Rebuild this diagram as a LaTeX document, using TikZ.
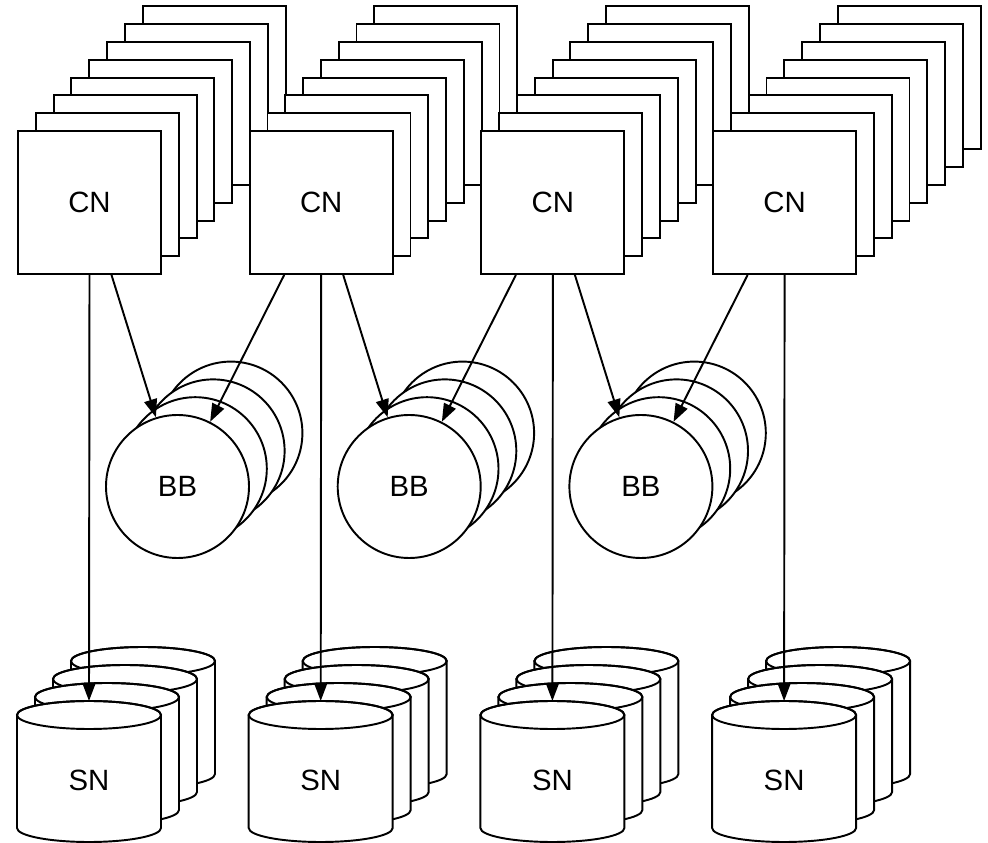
\documentclass[tikz,border=0pt]{standalone}
\usepackage{fontspec}
\setmainfont{Liberation Sans}
\usetikzlibrary{arrows.meta}

% storage drum: #1 = centre x, #2 = y of the centre of the top ellipse
\newcommand\drumshape[2]{%
  \filldraw[fill=white] (#1-72,#2) -- (#1-72,#2-113)
    arc[start angle=180,end angle=360,x radius=72,y radius=14]
    -- (#1+72,#2)
    arc[start angle=0,end angle=180,x radius=72,y radius=14] -- cycle;
  \draw (#1,#2) ellipse[x radius=72,y radius=14];
}

\begin{document}
\begin{tikzpicture}[x=0.75pt,y=0.75pt,line width=1.45pt,
  lbl/.style={font=\fontsize{22pt}{26pt}\selectfont},
  cnbox/.style={draw,fill=white,minimum size=107.25pt,inner sep=0pt,lbl},
  bbdisc/.style={draw,fill=white,circle,minimum size=107.25pt,inner sep=0pt,lbl},
  arr/.style={-{Triangle[length=13.5pt,width=9.75pt]}}]
\useasboundingbox (0,0) rectangle (988,842);

% compute nodes, each with seven copies stacked behind it
\foreach \g in {1,...,4}{
  \pgfmathsetmacro\cx{89.5+231.7*(\g-1)}
  \foreach \k in {7,6,...,1}{
    \node[cnbox] (cn\g-\k) at ({\cx+17.8*\k},{639.5+17.8*\k}) {};
  }
  \node[cnbox] (cn\g) at (\cx,639.5) {CN};
}

% burst buffers, three copies behind each
\foreach \g in {1,...,3}{
  \pgfmathsetmacro\bx{177.5+231.7*(\g-1)}
  \foreach \k in {3,2,1}{
    \node[bbdisc] (bb\g-\k) at ({\bx+17.8*\k},{355.5+17.8*\k}) {};
  }
  \node[bbdisc] (bb\g) at (\bx,355.5) {BB};
}

% storage nodes, three drums behind each
\foreach \g in {1,...,4}{
  \pgfmathsetmacro\sx{89+231.7*(\g-1)}
  \foreach \k in {3,2,1}{
    \pgfmathsetmacro\dx{\sx+18*\k}
    \pgfmathsetmacro\dy{127+18*\k}
    \drumshape{\dx}{\dy}
  }
  \drumshape{\sx}{127}
  \node[lbl] (sn\g) at (\sx,62) {SN};
  \coordinate (sntop\g) at (\sx,141);
}

% connectors
\foreach \g in {1,...,4}{
  \draw[arr] (cn\g.south) -- (sntop\g);
}
\foreach \g [evaluate=\g as \h using int(\g+1)] in {1,2,3}{
  \draw[arr] ([xshift=16.5pt]cn\g.south) -- (bb\g);
  \draw[arr] ([xshift=-27.75pt]cn\h.south) -- (bb\g);
}
\end{tikzpicture}
\end{document}
